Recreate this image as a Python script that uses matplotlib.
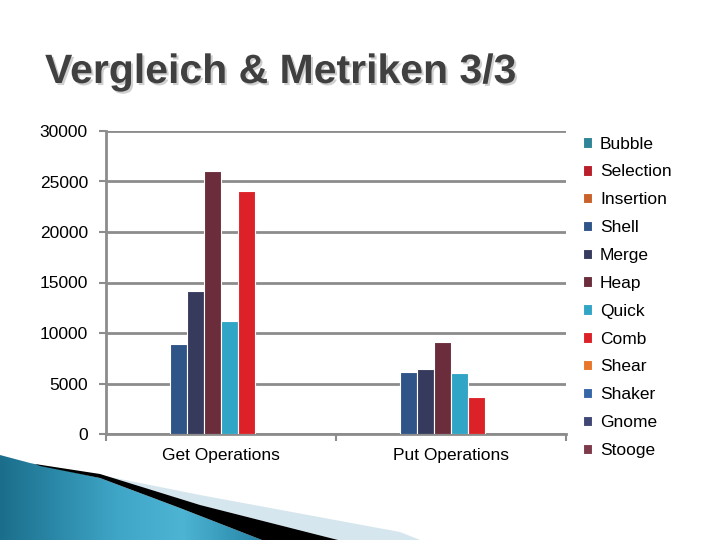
import numpy as np
import matplotlib
matplotlib.use("Agg")
import matplotlib.pyplot as plt
import matplotlib.patheffects as pe
from matplotlib.patches import Polygon
from matplotlib.colors import LinearSegmentedColormap

plt.rcParams['font.family'] = ['Liberation Sans', 'DejaVu Sans']

categories = ["Get Operations", "Put Operations"]
series = ["Bubble", "Selection", "Insertion", "Shell", "Merge", "Heap",
          "Quick", "Comb", "Shear", "Shaker", "Gnome", "Stooge"]
colors = ["#2F8497", "#B91F2A", "#C8622A", "#2F5487", "#363B5E", "#6B2D3C",
          "#31A5C5", "#DC2228", "#E8762B", "#3567A8", "#3F4775", "#7D3A4A"]

nan = np.nan
values = {
    "Bubble":    [nan, nan],
    "Selection": [nan, nan],
    "Insertion": [nan, nan],
    "Shell":     [8900, 6150],
    "Merge":     [14150, 6430],
    "Heap":      [26050, 9100],
    "Quick":     [11200, 6050],
    "Comb":      [24050, 3650],
    "Shear":     [nan, nan],
    "Shaker":    [nan, nan],
    "Gnome":     [nan, nan],
    "Stooge":    [nan, nan],
}
yticks = [0, 5000, 10000, 15000, 20000, 25000, 30000]

W, H = 720, 540
fig = plt.figure(figsize=(7.2, 5.4), dpi=100)

# background layer in pixel coords for the swoosh decoration
bg = fig.add_axes([0, 0, 1, 1], zorder=-1)
bg.set_xlim(0, W)
bg.set_ylim(H, 0)
bg.axis("off")

light = [(95, 474), (200, 495), (400, 532), (420, 540), (338, 540),
         (200, 505), (100, 475)]
bg.add_patch(Polygon(light, closed=True, facecolor="#D5E6EE", edgecolor="none"))

teal = Polygon([(0, 455), (30, 463), (100, 478), (180, 508), (262, 540), (0, 540)],
               closed=True, facecolor="none", edgecolor="none")
bg.add_patch(teal)
tcmap = LinearSegmentedColormap.from_list(
    "teal", [(0, "#1A6E8B"), (0.45, "#3FA6C8"), (0.7, "#4DB4D4"), (1, "#2785A6")])
grad = np.linspace(0, 1, 256).reshape(1, -1)
im = bg.imshow(grad, cmap=tcmap, extent=(0, 262, 540, 455), aspect="auto")
im.set_clip_path(teal)

black = [(35, 464), (100, 474), (200, 505), (338, 540),
         (262, 540), (180, 508), (100, 478), (40, 466)]
bg.add_patch(Polygon(black, closed=True, facecolor="black", edgecolor="none"))

# title with shadow
fig.text(45 / W, 1 - 83 / H, "Vergleich & Metriken 3/3",
         fontsize=29.5, fontweight="bold", color="#404040", va="baseline",
         path_effects=[pe.withSimplePatchShadow(offset=(1.5, -1.5),
                                                shadow_rgbFace="#CFCFCF",
                                                alpha=1)])

ax = fig.add_axes([106 / W, 1 - 434 / H, (566 - 106) / W, (434 - 131) / H])

x = np.arange(len(categories))
bw = 0.074
n = len(series)
for i, name in enumerate(series):
    offs = (i - (n - 1) / 2) * bw
    ax.bar(x + offs, values[name], width=bw, color=colors[i],
           edgecolor="white", linewidth=0.8, label=name, zorder=3)

ax.set_xlim(-0.5, 1.5)
ax.set_ylim(0, 30000)
ax.set_yticks(yticks)
ax.set_yticklabels([str(v) for v in yticks], fontsize=12.5)
ax.yaxis.grid(True, color="#8C8C8C", linewidth=2, zorder=0)
ax.set_axisbelow(True)

ax.set_xticks([-0.5, 0.5, 1.5])
ax.set_xticklabels([])
ax.set_xticks(x, minor=True)
ax.set_xticklabels(categories, minor=True, fontsize=12.5)
ax.tick_params(axis="x", which="minor", length=0, pad=10)
ax.tick_params(axis="x", which="major", length=5, width=1.5, color="#8C8C8C")
ax.tick_params(axis="y", length=5, width=1.5, color="#8C8C8C", pad=8)

for s in ["top", "right"]:
    ax.spines[s].set_visible(False)
for s in ["left", "bottom"]:
    ax.spines[s].set_color("#8C8C8C")
    ax.spines[s].set_linewidth(2)

handles, labels = ax.get_legend_handles_labels()
leg = fig.legend(handles, labels, loc="upper left",
                 bbox_to_anchor=(567 / W, 1 - 121 / H), frameon=False,
                 fontsize=12.5, handlelength=0.55, handleheight=0.55,
                 handletextpad=0.45, labelspacing=0.74)

fig.savefig("out.png", dpi=100)
